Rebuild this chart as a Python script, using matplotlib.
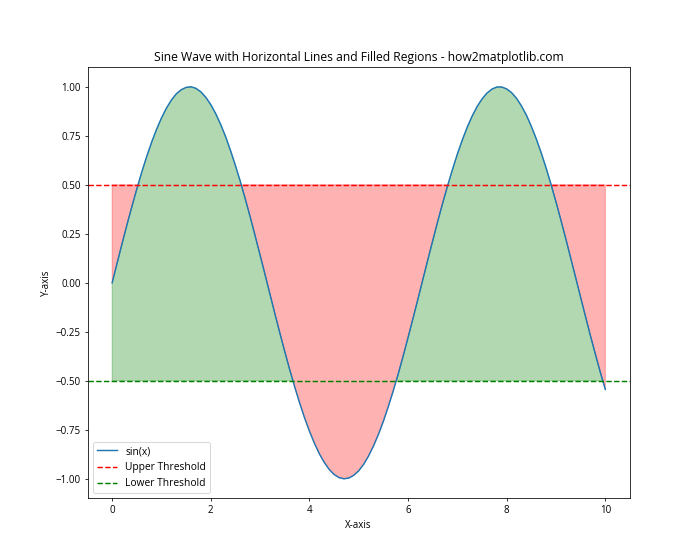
import matplotlib
matplotlib.use("Agg")
import matplotlib.pyplot as plt
import numpy as np

plt.rcParams['font.family'] = ['Open Sans', 'DejaVu Sans']

x_vals = [i / 10 for i in range(101)]
y_vals = [0.000, 0.100, 0.199, 0.296, 0.389, 0.479, 0.565, 0.644, 0.717, 0.783,
          0.841, 0.891, 0.932, 0.964, 0.985, 0.997, 1.000, 0.992, 0.974, 0.946,
          0.909, 0.863, 0.808, 0.746, 0.675, 0.598, 0.516, 0.427, 0.335, 0.239,
          0.141, 0.042, -0.058, -0.158, -0.256, -0.351, -0.443, -0.530, -0.612, -0.688,
          -0.757, -0.818, -0.872, -0.916, -0.952, -0.978, -0.994, -1.000, -0.996, -0.982,
          -0.959, -0.926, -0.883, -0.832, -0.773, -0.706, -0.631, -0.551, -0.465, -0.374,
          -0.279, -0.182, -0.083, 0.017, 0.117, 0.215, 0.312, 0.405, 0.494, 0.578,
          0.657, 0.729, 0.794, 0.851, 0.899, 0.938, 0.968, 0.988, 0.999, 0.999,
          0.989, 0.970, 0.941, 0.902, 0.855, 0.798, 0.734, 0.663, 0.585, 0.501,
          0.412, 0.319, 0.223, 0.124, 0.025, -0.075, -0.174, -0.272, -0.366, -0.458,
          -0.544]
upper = 0.5
lower = -0.5

x = np.array(x_vals)
y = np.array(y_vals)

fig, ax = plt.subplots(figsize=(10, 8), dpi=70)
ax.plot(x, y, label='sin(x)')
ax.axhline(upper, color='r', linestyle='--', label='Upper Threshold')
ax.axhline(lower, color='g', linestyle='--', label='Lower Threshold')
ax.fill_between(x, y, upper, where=(y < upper), color='red', alpha=0.3, interpolate=True)
ax.fill_between(x, y, lower, where=(y > lower), color='green', alpha=0.3, interpolate=True)
ax.set_title('Sine Wave with Horizontal Lines and Filled Regions - how2matplotlib.com', fontsize=12.5)
ax.set_xlabel('X-axis')
ax.set_ylabel('Y-axis')
ax.legend(loc='lower left', fontsize=10.5)
fig.savefig('out.png')
